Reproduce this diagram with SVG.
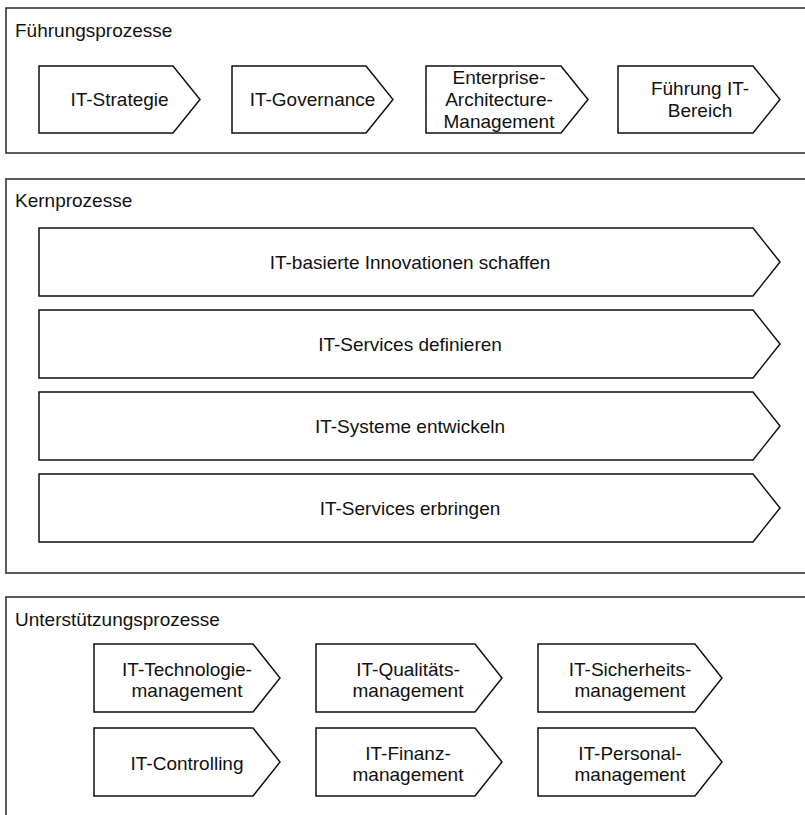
<svg xmlns="http://www.w3.org/2000/svg" width="805" height="815" viewBox="0 0 805 815">
<style>
.sec{fill:#fff;stroke:#333;stroke-width:1.6}
.chev{fill:#fff;stroke:#111;stroke-width:1.5;stroke-linejoin:miter}
text{font-family:"Liberation Sans",Arial,sans-serif;font-size:19px;fill:#111}
.c{text-anchor:middle}
</style>
<rect width="805" height="815" fill="#fff"/>
<g id="sec-fuehrung">
<rect class="sec" x="6" y="8" width="810" height="145"/>
<text x="15" y="37">Führungsprozesse</text>
</g>
<g id="sec-kern">
<rect class="sec" x="6" y="179" width="810" height="394"/>
<text x="15" y="207">Kernprozesse</text>
</g>
<g id="sec-unterstuetzung">
<rect class="sec" x="6" y="597" width="810" height="240"/>
<text x="15" y="626">Unterstützungsprozesse</text>
</g>
<g id="f1"><path class="chev" d="M39,66H173L200,99.5L173,133H39Z"/><text class="c" x="119.5" y="106">IT-Strategie</text></g>
<g id="f2"><path class="chev" d="M232,66H366L393,99.5L366,133H232Z"/><text class="c" x="312.5" y="106">IT-Governance</text></g>
<g id="f3"><path class="chev" d="M426,66H561L588,99.5L561,133H426Z"/><text class="c"><tspan x="499" y="84.3">Enterprise-</tspan><tspan x="499" y="106.3">Architecture-</tspan><tspan x="499" y="128.3">Management</tspan></text></g>
<g id="f4"><path class="chev" d="M618,66H753L780,99.5L753,133H618Z"/><text class="c"><tspan x="700" y="95.3">Führung IT-</tspan><tspan x="700" y="117.3">Bereich</tspan></text></g>
<g id="k1"><path class="chev" d="M39,228H753L780,262L753,296H39Z"/><text class="c" x="410" y="269">IT-basierte Innovationen schaffen</text></g>
<g id="k2"><path class="chev" d="M39,310H753L780,344L753,378H39Z"/><text class="c" x="410" y="351">IT-Services definieren</text></g>
<g id="k3"><path class="chev" d="M39,392H753L780,426L753,460H39Z"/><text class="c" x="410" y="433">IT-Systeme entwickeln</text></g>
<g id="k4"><path class="chev" d="M39,474H753L780,508L753,542H39Z"/><text class="c" x="410" y="515">IT-Services erbringen</text></g>
<g id="u1"><path class="chev" d="M94,644H253L280,678L253,712H94Z"/><text class="c"><tspan x="187" y="675.5">IT-Technologie-</tspan><tspan x="187" y="697">management</tspan></text></g>
<g id="u2"><path class="chev" d="M316,644H475L502,678L475,712H316Z"/><text class="c"><tspan x="408" y="675.5">IT-Qualitäts-</tspan><tspan x="408" y="697">management</tspan></text></g>
<g id="u3"><path class="chev" d="M538,644H695L722,678L695,712H538Z"/><text class="c"><tspan x="630" y="675.5">IT-Sicherheits-</tspan><tspan x="630" y="697">management</tspan></text></g>
<g id="u4"><path class="chev" d="M94,728H253L280,762L253,796H94Z"/><text class="c" x="187" y="770">IT-Controlling</text></g>
<g id="u5"><path class="chev" d="M316,728H475L502,762L475,796H316Z"/><text class="c"><tspan x="408" y="759.5">IT-Finanz-</tspan><tspan x="408" y="781">management</tspan></text></g>
<g id="u6"><path class="chev" d="M538,728H695L722,762L695,796H538Z"/><text class="c"><tspan x="630" y="759.5">IT-Personal-</tspan><tspan x="630" y="781">management</tspan></text></g>
<g id="connectors"/>
</svg>
